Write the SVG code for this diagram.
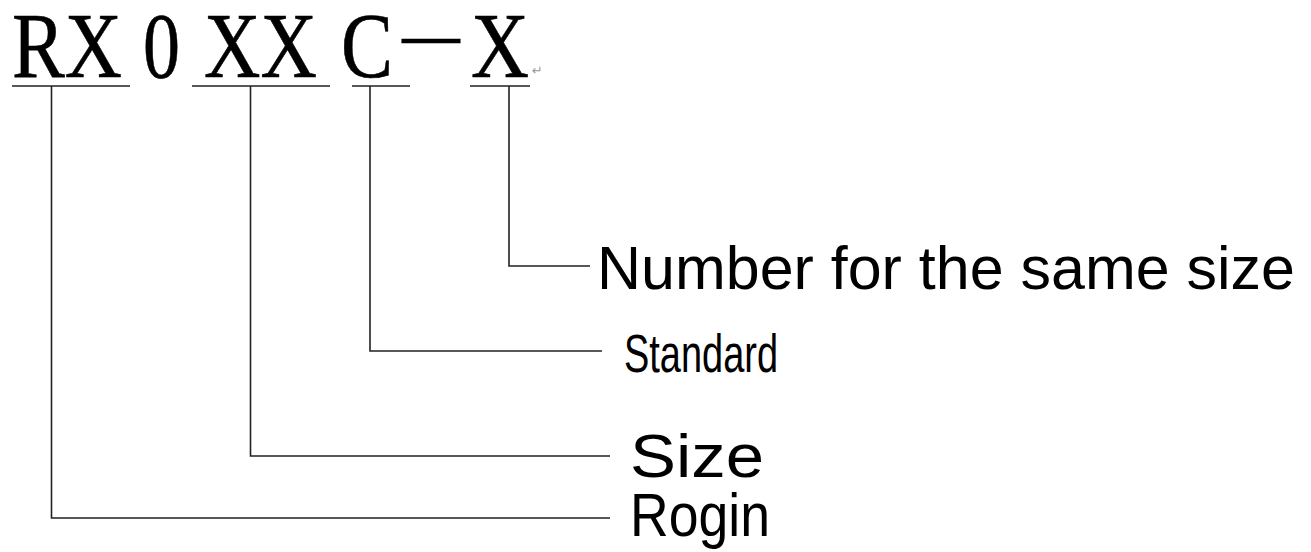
<svg xmlns="http://www.w3.org/2000/svg" width="1311" height="552" viewBox="0 0 1311 552">
<style>
.code{font-family:"Liberation Serif","Times New Roman",serif;font-size:94px;fill:#000;stroke:#000;stroke-width:0.6}
.lbl{font-family:"Liberation Sans",Arial,sans-serif;fill:#000}
.ul{stroke:#222;stroke-width:1.6;fill:none}
.conn path{stroke:#222;stroke-width:1.6;fill:none}
</style>
<rect width="1311" height="552" fill="#fff"/>
<g id="code">
<text class="code" x="12" y="77" textLength="110" lengthAdjust="spacingAndGlyphs">RX</text>
<text class="code" x="143" y="77" textLength="37" lengthAdjust="spacingAndGlyphs">0</text>
<text class="code" x="204" y="77" textLength="113" lengthAdjust="spacingAndGlyphs">XX</text>
<text class="code" x="341" y="77" textLength="52" lengthAdjust="spacingAndGlyphs">C</text>
<text class="code" x="402" y="60" style="font-size:80px;stroke-width:0.3" textLength="58" lengthAdjust="spacingAndGlyphs">—</text>
<text class="code" x="471" y="77" textLength="58" lengthAdjust="spacingAndGlyphs">X</text>
<text x="532" y="75" style="font-family:'DejaVu Sans',sans-serif;font-size:13px;fill:#999">↵</text>
<path class="ul" d="M12 86H130M192 86H330M352 86H410M470 86H530"/>
</g>
<g id="n-number"><text class="lbl" x="597" y="289" font-size="61" textLength="698" lengthAdjust="spacingAndGlyphs">Number for the same size</text></g>
<g id="n-standard"><text class="lbl" x="624" y="372" font-size="53" textLength="154" lengthAdjust="spacingAndGlyphs">Standard</text></g>
<g id="n-size"><text class="lbl" x="630" y="477" font-size="62" textLength="134" lengthAdjust="spacingAndGlyphs">Size</text></g>
<g id="n-rogin"><text class="lbl" x="630" y="536" font-size="62" textLength="140" lengthAdjust="spacingAndGlyphs">Rogin</text></g>
<g id="connectors" class="conn">
<path d="M51.5 86V518H610"/>
<path d="M250.5 86V456H610"/>
<path d="M370 86V351H602"/>
<path d="M509 86V266H590"/>
</g>
</svg>
